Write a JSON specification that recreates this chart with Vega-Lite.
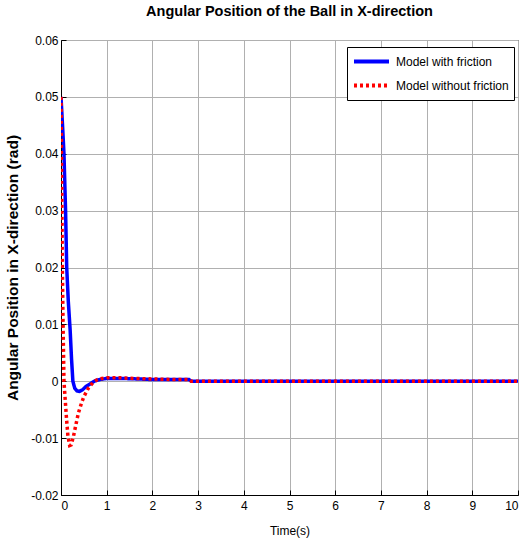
{
  "$schema": "https://vega.github.io/schema/vega-lite/v6.json",
  "width": 457,
  "height": 455,
  "autosize": {"type": "none"},
  "padding": {"left": 61, "top": 40, "right": 4, "bottom": 47},
  "background": "white",
  "title": {"text": "Angular Position of the Ball in X-direction", "font": "Liberation Sans, Arial", "fontSize": 14.5, "fontWeight": "bold", "color": "black", "offset": 15, "anchor": "middle"},
  "config": {
    "view": {"stroke": "black", "strokeWidth": 1},
    "axis": {"labelFont": "Liberation Sans, Arial", "labelFontSize": 12, "labelColor": "black", "titleColor": "black", "domainColor": "black", "tickColor": "black", "gridColor": "#b0b0b0", "gridWidth": 1, "tickSize": -5, "labelPadding": 8}
  },
  "data": {"values": [
    {"t": 0, "v": 0.05, "s": "Model with friction"},
    {"t": 0.02, "v": 0.047, "s": "Model with friction"},
    {"t": 0.04, "v": 0.044, "s": "Model with friction"},
    {"t": 0.065, "v": 0.04, "s": "Model with friction"},
    {"t": 0.1, "v": 0.03, "s": "Model with friction"},
    {"t": 0.125, "v": 0.02, "s": "Model with friction"},
    {"t": 0.16, "v": 0.014, "s": "Model with friction"},
    {"t": 0.2, "v": 0.009, "s": "Model with friction"},
    {"t": 0.23, "v": 0.004, "s": "Model with friction"},
    {"t": 0.26, "v": 0.0, "s": "Model with friction"},
    {"t": 0.3, "v": -0.0012, "s": "Model with friction"},
    {"t": 0.35, "v": -0.0017, "s": "Model with friction"},
    {"t": 0.4, "v": -0.0018, "s": "Model with friction"},
    {"t": 0.47, "v": -0.0015, "s": "Model with friction"},
    {"t": 0.55, "v": -0.0009, "s": "Model with friction"},
    {"t": 0.65, "v": -0.0004, "s": "Model with friction"},
    {"t": 0.75, "v": 0.0001, "s": "Model with friction"},
    {"t": 0.85, "v": 0.0003, "s": "Model with friction"},
    {"t": 1.0, "v": 0.0005, "s": "Model with friction"},
    {"t": 1.3, "v": 0.0005, "s": "Model with friction"},
    {"t": 1.7, "v": 0.0004, "s": "Model with friction"},
    {"t": 2.0, "v": 0.0003, "s": "Model with friction"},
    {"t": 2.8, "v": 0.0003, "s": "Model with friction"},
    {"t": 2.85, "v": 0.0, "s": "Model with friction"},
    {"t": 10, "v": 0.0, "s": "Model with friction"},
    {"t": 0, "v": 0.05, "s": "Model without friction"},
    {"t": 0.01, "v": 0.04, "s": "Model without friction"},
    {"t": 0.02, "v": 0.03, "s": "Model without friction"},
    {"t": 0.03, "v": 0.02, "s": "Model without friction"},
    {"t": 0.045, "v": 0.01, "s": "Model without friction"},
    {"t": 0.065, "v": 0.0, "s": "Model without friction"},
    {"t": 0.09, "v": -0.003, "s": "Model without friction"},
    {"t": 0.12, "v": -0.0065, "s": "Model without friction"},
    {"t": 0.15, "v": -0.0095, "s": "Model without friction"},
    {"t": 0.19, "v": -0.0113, "s": "Model without friction"},
    {"t": 0.22, "v": -0.0112, "s": "Model without friction"},
    {"t": 0.27, "v": -0.0098, "s": "Model without friction"},
    {"t": 0.33, "v": -0.0075, "s": "Model without friction"},
    {"t": 0.38, "v": -0.0056, "s": "Model without friction"},
    {"t": 0.45, "v": -0.0038, "s": "Model without friction"},
    {"t": 0.5, "v": -0.0027, "s": "Model without friction"},
    {"t": 0.6, "v": -0.0012, "s": "Model without friction"},
    {"t": 0.7, "v": -0.0002, "s": "Model without friction"},
    {"t": 0.8, "v": 0.0003, "s": "Model without friction"},
    {"t": 0.9, "v": 0.0005, "s": "Model without friction"},
    {"t": 1.0, "v": 0.0006, "s": "Model without friction"},
    {"t": 1.3, "v": 0.0006, "s": "Model without friction"},
    {"t": 1.6, "v": 0.0005, "s": "Model without friction"},
    {"t": 2.0, "v": 0.0004, "s": "Model without friction"},
    {"t": 2.5, "v": 0.0003, "s": "Model without friction"},
    {"t": 2.8, "v": 0.0003, "s": "Model without friction"},
    {"t": 2.85, "v": 0.0, "s": "Model without friction"},
    {"t": 10, "v": 0.0, "s": "Model without friction"}
  ]},
  "mark": {"type": "line", "strokeWidth": 3.5, "strokeCap": "butt", "clip": true},
  "encoding": {
    "x": {"field": "t", "type": "quantitative", "scale": {"domain": [0, 10], "nice": false},
      "axis": {"title": "Time(s)", "titleFont": "Liberation Sans, Arial", "titleFontSize": 12, "titleFontWeight": "normal", "titlePadding": 14, "values": [0,1,2,3,4,5,6,7,8,9,10], "format": "d", "labelPadding": 10}},
    "y": {"field": "v", "type": "quantitative", "scale": {"domain": [-0.02, 0.06], "nice": false, "zero": false},
      "axis": {"title": "Angular Position in X-direction (rad)", "titleFont": "Liberation Sans, Arial", "titleFontSize": 15.5, "titleFontWeight": "bold", "titlePadding": 10, "values": [-0.02,-0.01,0,0.01,0.02,0.03,0.04,0.05,0.06], "format": ".2~f", "labelExpr": "replace(datum.label, '\u2212', '-')", "labelPadding": 8}},
    "color": {"field": "s", "type": "nominal", "scale": {"domain": ["Model with friction", "Model without friction"], "range": ["#0000ff", "#ff0000"]},
      "legend": {"title": null, "orient": "none", "legendX": 286, "legendY": 7, "fillColor": "white", "strokeColor": "black", "padding": 5, "symbolType": "stroke", "symbolSize": 1225, "symbolStrokeWidth": 4, "clipHeight": 19, "labelFont": "Liberation Sans, Arial", "labelFontSize": 12, "labelColor": "black", "rowPadding": 5, "labelOffset": 5}},
    "strokeDash": {"field": "s", "type": "nominal", "scale": {"domain": ["Model with friction", "Model without friction"], "range": [[1, 0], [3, 3]]}, "legend": null}
  }
}
